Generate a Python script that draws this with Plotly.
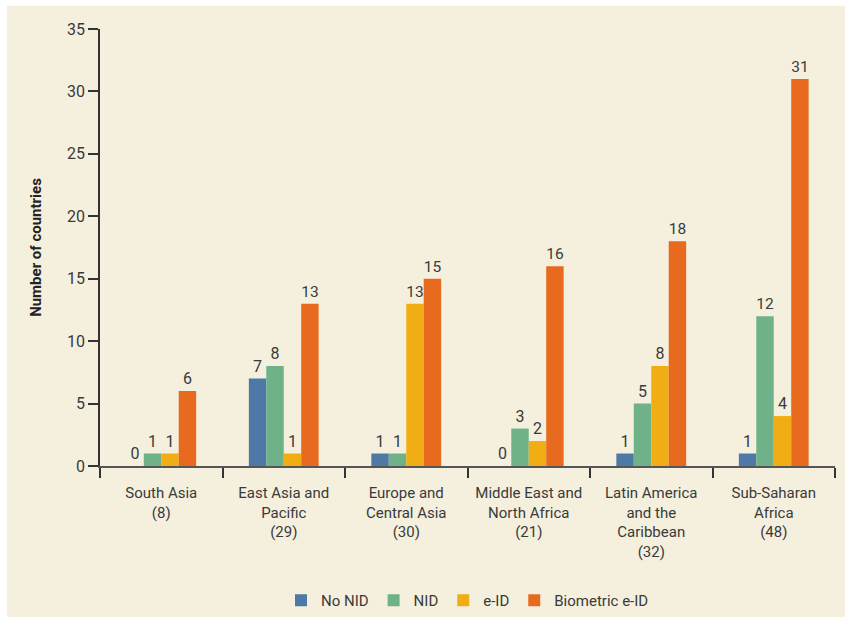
import plotly.graph_objects as go

categories = ["South Asia<br>(8)", "East Asia and<br>Pacific<br>(29)", "Europe and<br>Central Asia<br>(30)",
              "Middle East and<br>North Africa<br>(21)", "Latin America<br>and the<br>Caribbean<br>(32)",
              "Sub-Saharan<br>Africa<br>(48)"]
no_nid = [0, 7, 1, 0, 1, 1]
nid = [1, 8, 1, 3, 5, 12]
e_id = [1, 1, 13, 2, 8, 4]
bio_eid = [6, 13, 15, 16, 18, 31]
y_ticks = [0, 5, 10, 15, 20, 25, 30, 35]

series = [("No NID", no_nid, "#4e79a7"), ("NID", nid, "#6fb28a"),
          ("e-ID", e_id, "#f0ae14"), ("Biometric e-ID", bio_eid, "#e76a1f")]

FONT = "Roboto, Arial"
TXT = "#3a3a3a"
CREAM = "#f5f0de"

fig = go.Figure()
for name, vals, col in series:
    fig.add_trace(go.Bar(
        x=categories, y=vals, name=name, marker_color=col, marker_line_width=0,
        text=[str(v) for v in vals], textposition="outside", cliponaxis=False,
        textfont=dict(size=16, color=TXT, family=FONT),
    ))

fig.update_layout(
    barmode="group", bargap=0.43, bargroupgap=0,
    width=845, height=617,
    margin=dict(l=100, r=10, t=29, b=151, autoexpand=False),
    paper_bgcolor=CREAM, plot_bgcolor="rgba(0,0,0,0)",
    font=dict(family=FONT, size=15, color=TXT),
    showlegend=True,
    legend=dict(orientation="h", x=0.5, xanchor="center", y=-0.27, yanchor="top",
                font=dict(size=15, color=TXT, family=FONT), itemwidth=30,
                traceorder="normal", bgcolor="rgba(0,0,0,0)"),
    shapes=[
        dict(type="rect", xref="paper", yref="paper", x0=-0.3, x1=1.2,
             y0=1.053, y1=1.2, fillcolor="white", line_width=0, layer="below"),
        dict(type="rect", xref="paper", yref="paper", x0=-0.3, x1=-0.1265,
             y0=-0.5, y1=1.2, fillcolor="white", line_width=0, layer="below"),
    ],
)
fig.update_xaxes(
    showline=True, linecolor="#555555", linewidth=2, ticks="outside", tickson="boundaries",
    ticklen=10, tickcolor="#333333", tickwidth=1.5, showgrid=False, tickangle=0, automargin=False,
    ticklabelstandoff=12,
    tickfont=dict(size=15, color=TXT, family=FONT),
)
fig.update_yaxes(
    range=[0, 35], tickvals=y_ticks, showline=True, linecolor="#333333", linewidth=1.5,
    ticks="outside", ticklen=10, tickcolor="#333333", tickwidth=1.5, showgrid=False, automargin=False,
    zeroline=False, tickfont=dict(size=16, color=TXT, family=FONT),
    title=dict(text="<b>Number of countries</b>", font=dict(size=15, color="#222222", family=FONT), standoff=22),
)
fig.write_html("out.html", config={"displayModeBar": False},
               post_script="document.body.style.margin='0';document.body.style.background='#f5f0de';"
                           "document.documentElement.style.background='#f5f0de';")
